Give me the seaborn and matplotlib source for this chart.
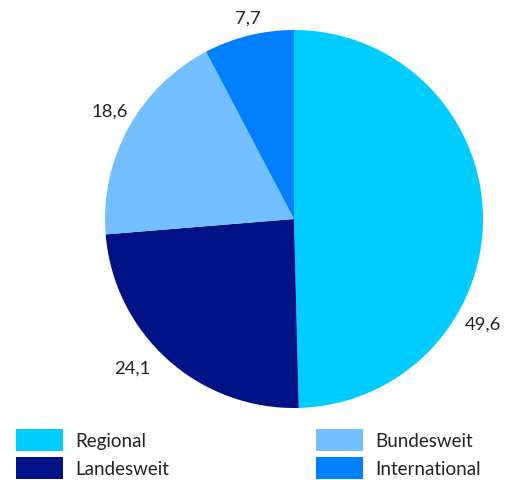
import matplotlib
matplotlib.use("Agg")
import matplotlib.pyplot as plt
import seaborn as sns
from matplotlib.patches import Patch

categories = ["Regional", "Landesweit", "Bundesweit", "International"]
values = [49.6, 24.1, 18.6, 7.7]
value_labels = ["49,6", "24,1", "18,6", "7,7"]
colors = ["#00CCFF", "#001285", "#73BEFF", "#0080FF"]
# label anchor positions (data units, pie radius = 1)
label_pos = [(1.0, -0.556), (-0.857, -0.788), (-0.974, 0.571), (-0.243, 1.063)]

sns.set_theme(style="white")
plt.rcParams['font.family'] = ['Lato', 'DejaVu Sans']

W, H = 505, 481
fig = plt.figure(figsize=(W / 100, H / 100), dpi=100)
fig.patch.set_facecolor("white")

cx, cy, r = 294, 220, 189
ax = fig.add_axes([(cx - r) / W, (H - cy - r) / H, 2 * r / W, 2 * r / H])
wedges, _ = ax.pie(values, colors=sns.color_palette(colors), startangle=90,
                   counterclock=False, radius=1.0,
                   wedgeprops=dict(linewidth=0))
ax.set_xlim(-1, 1)
ax.set_ylim(-1, 1)
ax.set_aspect("equal")
ax.axis("off")

for (x, y), lab in zip(label_pos, value_labels):
    ax.text(x, y, lab, ha="center", va="center", fontsize=13.3,
            color="#222222", clip_on=False)

fs = 13.5
handles = [Patch(facecolor=c, edgecolor="none", label=l) for c, l in zip(colors, categories)]
common = dict(frameon=False, loc="upper left", fontsize=fs, handlelength=2.51,
              handleheight=1.43, handletextpad=0.64, labelspacing=0.3,
              borderpad=0, borderaxespad=0, labelcolor="#222222")
leg1 = fig.legend(handles=handles[:2], bbox_to_anchor=(16 / W, 1 - 430 / H), **common)
leg2 = fig.legend(handles=handles[2:], bbox_to_anchor=(316 / W, 1 - 430 / H), **common)

fig.savefig("out.png", dpi=100, facecolor="white")
